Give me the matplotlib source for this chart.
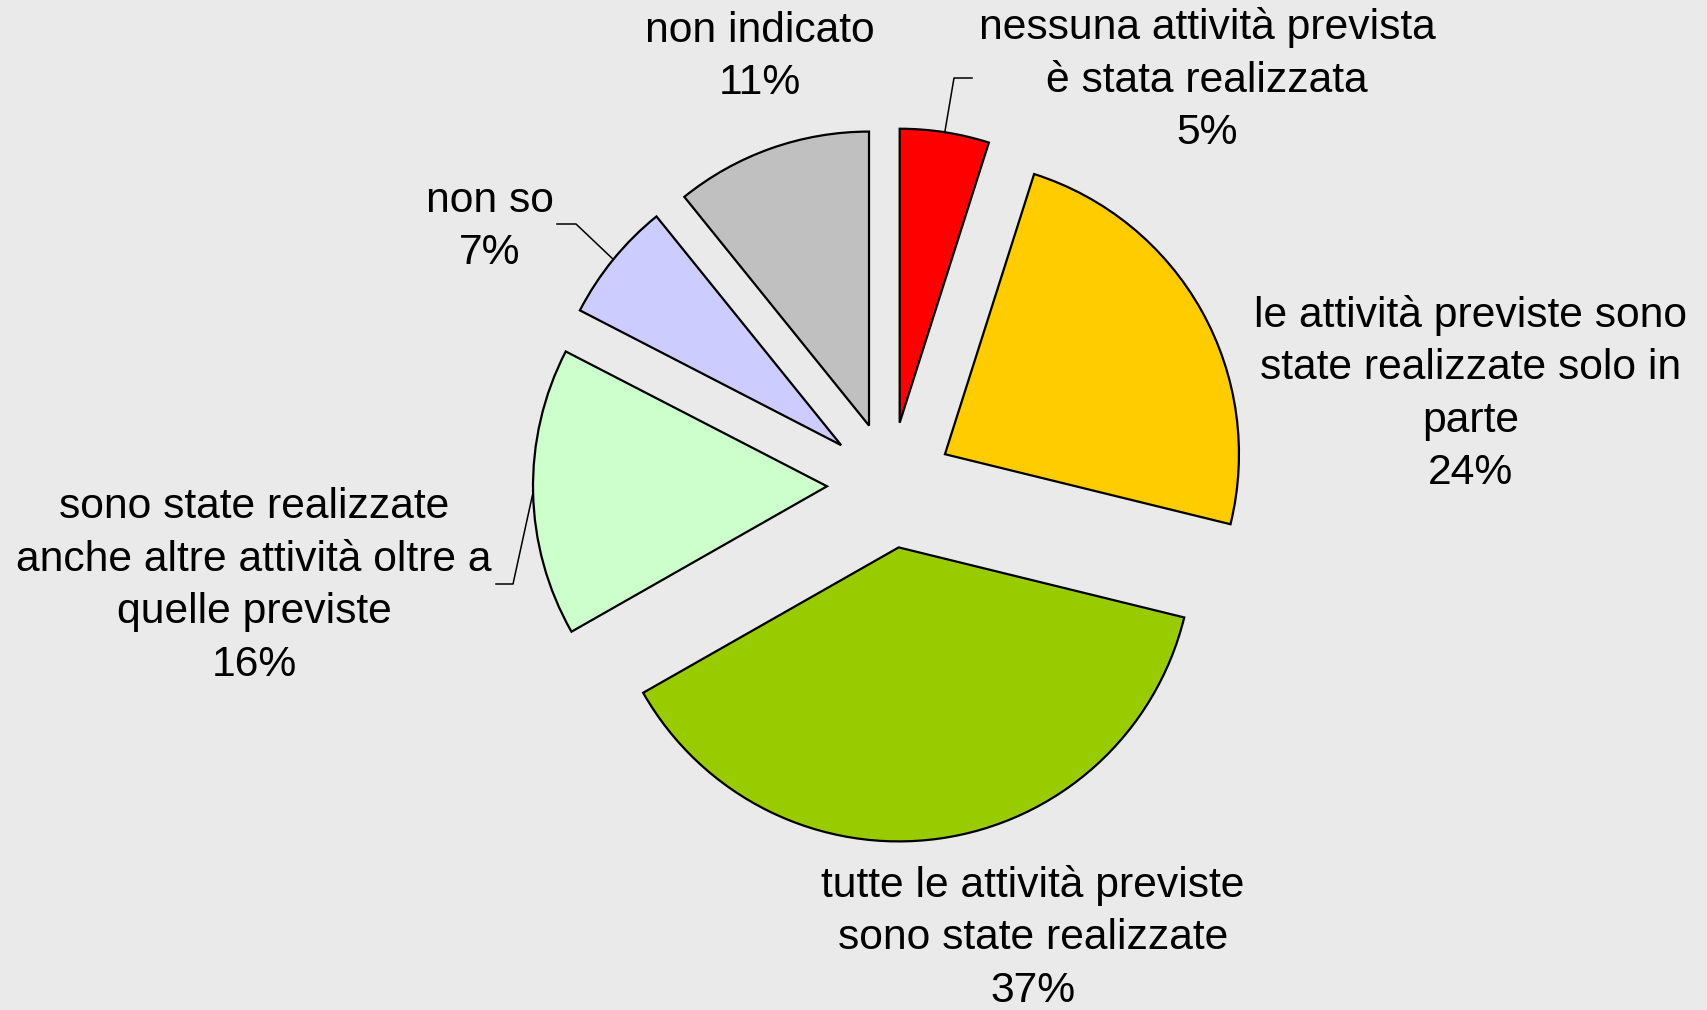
import numpy as np
import matplotlib
matplotlib.use("Agg")
import matplotlib.pyplot as plt

plt.rcParams['font.family'] = ['Liberation Sans', 'DejaVu Sans']

# dati
categorie = ["nessuna attività prevista\nè stata realizzata",
             "le attività previste sono\nstate realizzate solo in\nparte",
             "tutte le attività previste\nsono state realizzate",
             "sono state realizzate\nanche altre attività oltre a\nquelle previste",
             "non so",
             "non indicato"]
# ampiezze delle fette (%)
valori = [4.9, 23.9, 37.9, 15.8, 6.6, 10.8]
percentuali = ["5%", "24%", "37%", "16%", "7%", "11%"]
colori = ["#FF0000", "#FFCC00", "#99CC00", "#CCFFCC", "#CCCCFF", "#C0C0C0"]

# posizioni delle etichette (pixel, y dall'alto)
pos_etichette = [(1207, 80), (1471, 394), (1033, 938), (254, 586), (490, 227), (760, 57)]
# linee guida: gomito e fine (None = nessuna linea)
guide = [((954, 78), (972, 78)), None, None,
         ((513, 584), (496, 584)), ((576, 224), (557, 224)), None]

W, H = 1708, 1010
cx, cy, r = 890, H - 485, 294
esplodi = 63  # spostamento in pixel

fig = plt.figure(figsize=(W / 100, H / 100), dpi=100)
fig.patch.set_facecolor("#EAEAEA")
ax = fig.add_axes([0, 0, 1, 1])

wedges, _ = ax.pie(valori, colors=colori, startangle=90, counterclock=False,
                   radius=r, center=(cx, cy), explode=[esplodi] * len(valori),
                   wedgeprops=dict(edgecolor="black", linewidth=1.6))
ax.set_xlim(0, W)
ax.set_ylim(0, H)
ax.set_aspect("equal")
ax.axis("off")

for i, w in enumerate(wedges):
    x, y = pos_etichette[i]
    ax.text(x, H - y, categorie[i] + "\n" + percentuali[i],
            ha="center", va="center", fontsize=30.7, linespacing=1.40, color="black")
    if guide[i] is not None:
        ang = np.deg2rad((w.theta1 + w.theta2) / 2)
        px, py = w.center[0] + r * np.cos(ang), w.center[1] + r * np.sin(ang)
        (ex, ey), (fx, fy) = guide[i]
        ax.plot([px, ex, fx], [py, H - ey, H - fy], color="black", lw=1.1)

fig.savefig("out.png", dpi=100, facecolor=fig.get_facecolor())
